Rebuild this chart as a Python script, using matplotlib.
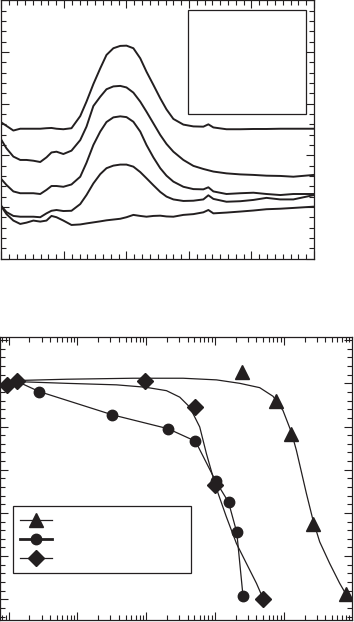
import matplotlib
matplotlib.use("Agg")
import matplotlib.pyplot as plt
from matplotlib.ticker import MultipleLocator
from matplotlib.lines import Line2D
from matplotlib.patches import Rectangle

INK = '#231f20'

# ---- top panel: five spectra (wavelength in nm, absorbance) ----
wavelength = [300, 308, 319, 330, 340, 351, 362, 372, 380, 388, 399, 412, 426, 436,
              447, 458, 468, 479, 490, 500, 511, 522, 532, 543, 554, 564, 575, 591,
              607, 623, 631, 639, 660, 682, 703, 724, 746, 767, 800]

spec_1 = [0.527, 0.514, 0.496, 0.503, 0.503, 0.503, 0.503, 0.505, 0.506, 0.503, 0.501,
          0.505, 0.552, 0.608, 0.676, 0.737, 0.789, 0.815, 0.824, 0.825, 0.815, 0.776,
          0.724, 0.673, 0.621, 0.578, 0.541, 0.519, 0.512, 0.511, 0.520, 0.508, 0.501,
          0.501, 0.502, 0.502, 0.503, 0.503, 0.503]
spec_2 = [0.459, 0.427, 0.395, 0.382, 0.382, 0.379, 0.374, 0.392, 0.411, 0.414, 0.405,
          0.418, 0.459, 0.511, 0.591, 0.627, 0.656, 0.667, 0.669, 0.663, 0.643, 0.608,
          0.569, 0.524, 0.479, 0.444, 0.414, 0.382, 0.359, 0.347, 0.342, 0.337, 0.330,
          0.326, 0.324, 0.321, 0.320, 0.317, 0.324]
spec_3 = [0.307, 0.285, 0.260, 0.253, 0.253, 0.253, 0.250, 0.266, 0.281, 0.281, 0.278,
          0.287, 0.317, 0.371, 0.440, 0.492, 0.529, 0.547, 0.551, 0.548, 0.530, 0.492,
          0.440, 0.392, 0.350, 0.321, 0.298, 0.278, 0.269, 0.268, 0.276, 0.260, 0.250,
          0.253, 0.255, 0.250, 0.246, 0.250, 0.250]
spec_4 = [0.203, 0.180, 0.165, 0.162, 0.162, 0.162, 0.160, 0.175, 0.185, 0.188, 0.184,
          0.185, 0.211, 0.246, 0.291, 0.327, 0.350, 0.360, 0.364, 0.364, 0.356, 0.335,
          0.311, 0.284, 0.258, 0.240, 0.229, 0.223, 0.224, 0.229, 0.245, 0.231, 0.220,
          0.222, 0.227, 0.235, 0.229, 0.229, 0.246]
spec_5 = [0.201, 0.172, 0.147, 0.134, 0.139, 0.147, 0.143, 0.147, 0.165, 0.160, 0.147,
          0.130, 0.132, 0.136, 0.140, 0.144, 0.148, 0.151, 0.154, 0.160, 0.169, 0.165,
          0.162, 0.165, 0.166, 0.163, 0.162, 0.169, 0.172, 0.179, 0.188, 0.175, 0.178,
          0.182, 0.186, 0.191, 0.193, 0.196, 0.201]

# ---- bottom panel: three series on a log x axis ----
tri_x = [250, 762, 1290, 2660, 8130]
tri_y = [5.27, 4.60, 3.83, 1.74, 0.12]
circ_x = [0.130, 0.277, 3.23, 20.7, 51.9, 102, 157, 207, 255]
circ_y = [5.05, 4.81, 4.27, 3.95, 3.66, 2.74, 2.25, 1.55, 0.08]
dia_x = [0.095, 0.130, 9.73, 50.7, 99, 499]
dia_y = [4.97, 5.06, 5.05, 4.45, 2.64, 0.01]

# smooth fit curves
tri_fit_x = [0.130, 0.691, 6.43, 34.3, 105, 229, 446, 697, 973, 1288, 1523, 1802,
             2130, 2660, 3325, 4645, 6490, 8130]
tri_fit_y = [5.065, 5.095, 5.118, 5.118, 5.08, 5.00, 4.90, 4.70, 4.37, 3.87, 3.45,
             2.95, 2.45, 1.83, 1.33, 0.83, 0.37, 0.10]
dia_fit_x = [0.095, 0.130, 0.691, 3.69, 9.73, 19.7, 30.7, 42.9, 59.9, 75.0, 93.6,
             111, 146, 205, 286, 400, 499]
dia_fit_y = [4.965, 5.04, 5.00, 4.965, 4.91, 4.83, 4.68, 4.45, 3.99, 3.37, 2.83,
             2.45, 1.91, 1.29, 0.83, 0.37, 0.02]


def style_axes(ax):
    ax.tick_params(which='both', direction='in', top=True, right=True,
                   labelbottom=False, labelleft=False, color=INK, width=0.8)
    ax.tick_params(which='major', length=6)
    ax.tick_params(which='minor', length=3.5)
    for s in ax.spines.values():
        s.set_linewidth(0.9)
        s.set_color(INK)


fig = plt.figure(figsize=(3.54, 6.22), dpi=100)

ax1 = fig.add_axes([0.0042, 0.5844, 0.8828, 0.4148])
for spec in [spec_1, spec_2, spec_3, spec_4, spec_5]:
    ax1.plot(wavelength, spec, color=INK, lw=1.4)
ax1.set_xlim(300, 800)
ax1.set_ylim(0, 1.0)
ax1.xaxis.set_major_locator(MultipleLocator(100))
ax1.xaxis.set_minor_locator(MultipleLocator(12.5))
ax1.yaxis.set_major_locator(MultipleLocator(0.2))
ax1.yaxis.set_minor_locator(MultipleLocator(0.04))
style_axes(ax1)
# empty legend frame
ax1.add_patch(Rectangle((0.596, 0.560), 0.378, 0.403, transform=ax1.transAxes,
                        fill=False, edgecolor=INK, lw=0.9))

ax2 = fig.add_axes([0.0014, 0.0032, 0.9929, 0.4555])
ax2.set_xscale('log')
ax2.plot(tri_fit_x, tri_fit_y, color=INK, lw=0.9)
ax2.plot(dia_fit_x, dia_fit_y, color=INK, lw=0.9)
ax2.plot(circ_x, circ_y, color=INK, lw=0.9)
ax2.plot(tri_x, tri_y, ls='none', marker='^', ms=10, color=INK)
ax2.plot(circ_x, circ_y, ls='none', marker='o', ms=7.5, color=INK)
ax2.plot(dia_x, dia_y, ls='none', marker='D', ms=8, color=INK)
ax2.set_xlim(0.076, 9800)
ax2.set_ylim(-0.48, 6.08)
ax2.yaxis.set_major_locator(MultipleLocator(1))
ax2.yaxis.set_minor_locator(MultipleLocator(0.2))
style_axes(ax2)

handles = [Line2D([], [], color=INK, lw=0.9, marker='^', ms=10),
           Line2D([], [], color=INK, lw=2.0, marker='o', ms=7.5),
           Line2D([], [], color=INK, lw=0.9, marker='D', ms=8)]
leg = ax2.legend(handles, [' ', ' ', ' '], loc='lower left',
                 bbox_to_anchor=(0.0347, 0.165, 0.506, 0.226), mode='expand',
                 fontsize=10, handlelength=2.3, labelspacing=0.35, borderpad=0.55,
                 borderaxespad=0, fancybox=False, framealpha=1, edgecolor=INK)
leg.get_frame().set_linewidth(0.9)

fig.savefig('out.png', dpi=100)
